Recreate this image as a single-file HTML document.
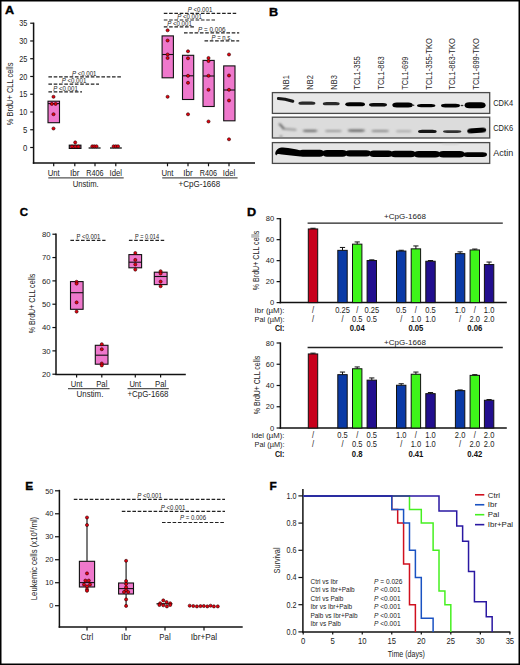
<!DOCTYPE html><html><head><meta charset="utf-8"><title>Figure</title><style>html,body{margin:0;padding:0;background:#fff;width:520px;height:665px;overflow:hidden;}svg text{font-family:"Liberation Sans", sans-serif;}</style></head><body><svg width="520" height="665" viewBox="0 0 520 665" style="display:block;font-family:'Liberation Sans', sans-serif"><rect x="0" y="0" width="520" height="665" fill="#fff"/><text transform="translate(5.0 13.9) scale(1.12 1)" x="0" y="0" font-size="11.3" font-weight="bold" fill="#000" stroke="#000" stroke-width="0.35">A</text>
<line x1="33.6" y1="22.6" x2="33.6" y2="163.8" stroke="#111" stroke-width="1.5" stroke-linecap="butt"/>
<line x1="32.8" y1="163.1" x2="255" y2="163.1" stroke="#111" stroke-width="1.5" stroke-linecap="butt"/>
<line x1="30.2" y1="147.5" x2="33.6" y2="147.5" stroke="#111" stroke-width="1.2" stroke-linecap="butt"/>
<text x="27.4" y="150.6" font-size="8.6" text-anchor="end" fill="#222" textLength="4.3" lengthAdjust="spacingAndGlyphs">0</text>
<line x1="30.2" y1="129.75" x2="33.6" y2="129.75" stroke="#111" stroke-width="1.2" stroke-linecap="butt"/>
<text x="27.4" y="132.84" font-size="8.6" text-anchor="end" fill="#222" textLength="4.3" lengthAdjust="spacingAndGlyphs">5</text>
<line x1="30.2" y1="111.99" x2="33.6" y2="111.99" stroke="#111" stroke-width="1.2" stroke-linecap="butt"/>
<text x="27.4" y="115.09" font-size="8.6" text-anchor="end" fill="#222" textLength="8.1" lengthAdjust="spacingAndGlyphs">10</text>
<line x1="30.2" y1="94.23" x2="33.6" y2="94.23" stroke="#111" stroke-width="1.2" stroke-linecap="butt"/>
<text x="27.4" y="97.33" font-size="8.6" text-anchor="end" fill="#222" textLength="8.1" lengthAdjust="spacingAndGlyphs">15</text>
<line x1="30.2" y1="76.48" x2="33.6" y2="76.48" stroke="#111" stroke-width="1.2" stroke-linecap="butt"/>
<text x="27.4" y="79.58" font-size="8.6" text-anchor="end" fill="#222" textLength="8.1" lengthAdjust="spacingAndGlyphs">20</text>
<line x1="30.2" y1="58.72" x2="33.6" y2="58.72" stroke="#111" stroke-width="1.2" stroke-linecap="butt"/>
<text x="27.4" y="61.82" font-size="8.6" text-anchor="end" fill="#222" textLength="8.1" lengthAdjust="spacingAndGlyphs">25</text>
<line x1="30.2" y1="40.97" x2="33.6" y2="40.97" stroke="#111" stroke-width="1.2" stroke-linecap="butt"/>
<text x="27.4" y="44.07" font-size="8.6" text-anchor="end" fill="#222" textLength="8.1" lengthAdjust="spacingAndGlyphs">30</text>
<line x1="30.2" y1="23.21" x2="33.6" y2="23.21" stroke="#111" stroke-width="1.2" stroke-linecap="butt"/>
<text x="27.4" y="26.31" font-size="8.6" text-anchor="end" fill="#222" textLength="8.1" lengthAdjust="spacingAndGlyphs">35</text>
<text x="12.8" y="93.95" font-size="8.8" text-anchor="middle" fill="#222" textLength="62.7" lengthAdjust="spacingAndGlyphs" transform="rotate(-90 12.8 93.95)">% BrdU+ CLL cells</text>
<line x1="53.7" y1="163.1" x2="53.7" y2="166.3" stroke="#111" stroke-width="1.2" stroke-linecap="butt"/>
<text x="53.7" y="176.2" font-size="8.6" text-anchor="middle" fill="#222" textLength="12" lengthAdjust="spacingAndGlyphs">Unt</text>
<line x1="74.8" y1="163.1" x2="74.8" y2="166.3" stroke="#111" stroke-width="1.2" stroke-linecap="butt"/>
<text x="74.8" y="176.2" font-size="8.6" text-anchor="middle" fill="#222" textLength="9.5" lengthAdjust="spacingAndGlyphs">Ibr</text>
<line x1="95.0" y1="163.1" x2="95.0" y2="166.3" stroke="#111" stroke-width="1.2" stroke-linecap="butt"/>
<text x="95.0" y="176.2" font-size="8.6" text-anchor="middle" fill="#222" textLength="17.3" lengthAdjust="spacingAndGlyphs">R406</text>
<line x1="115.8" y1="163.1" x2="115.8" y2="166.3" stroke="#111" stroke-width="1.2" stroke-linecap="butt"/>
<text x="115.8" y="176.2" font-size="8.6" text-anchor="middle" fill="#222" textLength="12.5" lengthAdjust="spacingAndGlyphs">Idel</text>
<line x1="167.5" y1="163.1" x2="167.5" y2="166.3" stroke="#111" stroke-width="1.2" stroke-linecap="butt"/>
<text x="167.5" y="176.2" font-size="8.6" text-anchor="middle" fill="#222" textLength="12" lengthAdjust="spacingAndGlyphs">Unt</text>
<line x1="188.0" y1="163.1" x2="188.0" y2="166.3" stroke="#111" stroke-width="1.2" stroke-linecap="butt"/>
<text x="188.0" y="176.2" font-size="8.6" text-anchor="middle" fill="#222" textLength="9.5" lengthAdjust="spacingAndGlyphs">Ibr</text>
<line x1="208.5" y1="163.1" x2="208.5" y2="166.3" stroke="#111" stroke-width="1.2" stroke-linecap="butt"/>
<text x="208.5" y="176.2" font-size="8.6" text-anchor="middle" fill="#222" textLength="17.3" lengthAdjust="spacingAndGlyphs">R406</text>
<line x1="229.0" y1="163.1" x2="229.0" y2="166.3" stroke="#111" stroke-width="1.2" stroke-linecap="butt"/>
<text x="229.0" y="176.2" font-size="8.6" text-anchor="middle" fill="#222" textLength="12.5" lengthAdjust="spacingAndGlyphs">Idel</text>
<line x1="48.3" y1="177.9" x2="123.7" y2="177.9" stroke="#555" stroke-width="1.1" stroke-linecap="butt"/>
<line x1="162.2" y1="177.9" x2="237.6" y2="177.9" stroke="#555" stroke-width="1.1" stroke-linecap="butt"/>
<text x="85.7" y="186.8" font-size="8.6" text-anchor="middle" fill="#222" textLength="26" lengthAdjust="spacingAndGlyphs">Unstim.</text>
<text x="199.4" y="186.8" font-size="8.4" text-anchor="middle" fill="#222" textLength="41.7" lengthAdjust="spacingAndGlyphs">+CpG-1668</text>
<rect x="48.0" y="101.2" width="11.5" height="21.5" fill="#ef78cc" stroke="#111" stroke-width="1.1"/>
<line x1="48.0" y1="103.6" x2="59.5" y2="103.6" stroke="#111" stroke-width="1.1" stroke-linecap="butt"/>
<circle cx="53.5" cy="96.8" r="1.55" fill="#e6000e" stroke="#2a0000" stroke-width="0.6"/>
<circle cx="51.8" cy="103.9" r="1.55" fill="#e6000e" stroke="#2a0000" stroke-width="0.6"/>
<circle cx="55.6" cy="103.9" r="1.55" fill="#e6000e" stroke="#2a0000" stroke-width="0.6"/>
<circle cx="53.5" cy="114.2" r="1.55" fill="#e6000e" stroke="#2a0000" stroke-width="0.6"/>
<circle cx="53.5" cy="128.5" r="1.55" fill="#e6000e" stroke="#2a0000" stroke-width="0.6"/>
<rect x="69.3" y="145.2" width="11.6" height="3.2" fill="#ef78cc" stroke="#111" stroke-width="1.2"/>
<circle cx="75.2" cy="142.4" r="1.55" fill="#e6000e" stroke="#2a0000" stroke-width="0.6"/>
<circle cx="72.0" cy="146.6" r="1.55" fill="#e6000e" stroke="#2a0000" stroke-width="0.6"/>
<circle cx="75.2" cy="146.6" r="1.55" fill="#e6000e" stroke="#2a0000" stroke-width="0.6"/>
<circle cx="78.3" cy="146.6" r="1.55" fill="#e6000e" stroke="#2a0000" stroke-width="0.6"/>
<line x1="88.6" y1="148.0" x2="100.6" y2="148.0" stroke="#111" stroke-width="1.3" stroke-linecap="butt"/>
<circle cx="92.3" cy="146.3" r="1.55" fill="#e6000e" stroke="#2a0000" stroke-width="0.6"/>
<circle cx="94.3" cy="146.3" r="1.55" fill="#e6000e" stroke="#2a0000" stroke-width="0.6"/>
<circle cx="96.5" cy="146.3" r="1.55" fill="#e6000e" stroke="#2a0000" stroke-width="0.6"/>
<line x1="110.0" y1="148.0" x2="121.8" y2="148.0" stroke="#111" stroke-width="1.3" stroke-linecap="butt"/>
<circle cx="113.6" cy="146.3" r="1.55" fill="#e6000e" stroke="#2a0000" stroke-width="0.6"/>
<circle cx="115.8" cy="146.3" r="1.55" fill="#e6000e" stroke="#2a0000" stroke-width="0.6"/>
<circle cx="118.0" cy="146.3" r="1.55" fill="#e6000e" stroke="#2a0000" stroke-width="0.6"/>
<rect x="162.1" y="35.9" width="11.3" height="41.9" fill="#ef78cc" stroke="#111" stroke-width="1.1"/>
<line x1="162.1" y1="54.5" x2="173.4" y2="54.5" stroke="#111" stroke-width="1.1" stroke-linecap="butt"/>
<circle cx="167.6" cy="30.3" r="1.55" fill="#e6000e" stroke="#2a0000" stroke-width="0.6"/>
<circle cx="167.6" cy="40.5" r="1.55" fill="#e6000e" stroke="#2a0000" stroke-width="0.6"/>
<circle cx="167.6" cy="54.5" r="1.55" fill="#e6000e" stroke="#2a0000" stroke-width="0.6"/>
<circle cx="167.6" cy="58.0" r="1.55" fill="#e6000e" stroke="#2a0000" stroke-width="0.6"/>
<circle cx="167.6" cy="96.8" r="1.55" fill="#e6000e" stroke="#2a0000" stroke-width="0.6"/>
<rect x="182.5" y="55.3" width="11.2" height="44.2" fill="#ef78cc" stroke="#111" stroke-width="1.1"/>
<line x1="182.5" y1="75.8" x2="193.7" y2="75.8" stroke="#111" stroke-width="1.1" stroke-linecap="butt"/>
<circle cx="188.0" cy="51.3" r="1.55" fill="#e6000e" stroke="#2a0000" stroke-width="0.6"/>
<circle cx="188.0" cy="58.3" r="1.55" fill="#e6000e" stroke="#2a0000" stroke-width="0.6"/>
<circle cx="188.0" cy="75.8" r="1.55" fill="#e6000e" stroke="#2a0000" stroke-width="0.6"/>
<circle cx="188.0" cy="82.8" r="1.55" fill="#e6000e" stroke="#2a0000" stroke-width="0.6"/>
<circle cx="188.0" cy="114.3" r="1.55" fill="#e6000e" stroke="#2a0000" stroke-width="0.6"/>
<rect x="203.0" y="60.4" width="11.2" height="46.1" fill="#ef78cc" stroke="#111" stroke-width="1.1"/>
<line x1="203.0" y1="76.0" x2="214.2" y2="76.0" stroke="#111" stroke-width="1.1" stroke-linecap="butt"/>
<circle cx="208.5" cy="58.0" r="1.55" fill="#e6000e" stroke="#2a0000" stroke-width="0.6"/>
<circle cx="208.5" cy="61.0" r="1.55" fill="#e6000e" stroke="#2a0000" stroke-width="0.6"/>
<circle cx="208.5" cy="75.8" r="1.55" fill="#e6000e" stroke="#2a0000" stroke-width="0.6"/>
<circle cx="208.5" cy="89.8" r="1.55" fill="#e6000e" stroke="#2a0000" stroke-width="0.6"/>
<circle cx="208.5" cy="121.5" r="1.55" fill="#e6000e" stroke="#2a0000" stroke-width="0.6"/>
<rect x="223.7" y="65.9" width="11.3" height="54.9" fill="#ef78cc" stroke="#111" stroke-width="1.1"/>
<line x1="223.7" y1="90.0" x2="235.0" y2="90.0" stroke="#111" stroke-width="1.1" stroke-linecap="butt"/>
<circle cx="229.0" cy="54.5" r="1.55" fill="#e6000e" stroke="#2a0000" stroke-width="0.6"/>
<circle cx="229.0" cy="75.5" r="1.55" fill="#e6000e" stroke="#2a0000" stroke-width="0.6"/>
<circle cx="229.0" cy="89.8" r="1.55" fill="#e6000e" stroke="#2a0000" stroke-width="0.6"/>
<circle cx="229.0" cy="100.5" r="1.55" fill="#e6000e" stroke="#2a0000" stroke-width="0.6"/>
<circle cx="229.0" cy="139.3" r="1.55" fill="#e6000e" stroke="#2a0000" stroke-width="0.6"/>
<line x1="48.4" y1="76.8" x2="121.0" y2="76.8" stroke="#222" stroke-width="1.2" stroke-dasharray="3.6 1.7" stroke-linecap="butt"/>
<text x="84.2" y="75.6" font-size="6.3" text-anchor="middle" fill="#222" textLength="24.6" lengthAdjust="spacingAndGlyphs"><tspan font-style="italic">P</tspan> &lt;0.001</text>
<line x1="48.4" y1="84.2" x2="99.0" y2="84.2" stroke="#222" stroke-width="1.2" stroke-dasharray="3.6 1.7" stroke-linecap="butt"/>
<text x="74.0" y="83.0" font-size="6.3" text-anchor="middle" fill="#222" textLength="24.6" lengthAdjust="spacingAndGlyphs"><tspan font-style="italic">P</tspan> &lt;0.001</text>
<line x1="48.4" y1="91.8" x2="82.0" y2="91.8" stroke="#222" stroke-width="1.2" stroke-dasharray="3.6 1.7" stroke-linecap="butt"/>
<text x="65.5" y="90.6" font-size="6.3" text-anchor="middle" fill="#222" textLength="24.6" lengthAdjust="spacingAndGlyphs"><tspan font-style="italic">P</tspan> &lt;0.001</text>
<line x1="163.8" y1="13.3" x2="236.2" y2="13.3" stroke="#222" stroke-width="1.2" stroke-dasharray="3.6 1.7" stroke-linecap="butt"/>
<text x="200.0" y="12.0" font-size="6.3" text-anchor="middle" fill="#222" textLength="24.6" lengthAdjust="spacingAndGlyphs"><tspan font-style="italic">P</tspan> &lt;0.001</text>
<line x1="163.8" y1="20.0" x2="215.0" y2="20.0" stroke="#222" stroke-width="1.2" stroke-dasharray="3.6 1.7" stroke-linecap="butt"/>
<text x="189.5" y="18.8" font-size="6.3" text-anchor="middle" fill="#222" textLength="24.6" lengthAdjust="spacingAndGlyphs"><tspan font-style="italic">P</tspan> &lt;0.001</text>
<line x1="163.8" y1="26.8" x2="195.5" y2="26.8" stroke="#222" stroke-width="1.2" stroke-dasharray="3.6 1.7" stroke-linecap="butt"/>
<text x="179.5" y="25.6" font-size="6.3" text-anchor="middle" fill="#222" textLength="24.6" lengthAdjust="spacingAndGlyphs"><tspan font-style="italic">P</tspan> &lt;0.001</text>
<line x1="184.0" y1="32.8" x2="239.2" y2="32.8" stroke="#222" stroke-width="1.2" stroke-dasharray="3.6 1.7" stroke-linecap="butt"/>
<text x="211.8" y="31.7" font-size="6.3" text-anchor="middle" fill="#222" textLength="27.4" lengthAdjust="spacingAndGlyphs"><tspan font-style="italic">P</tspan> = 0.006</text>
<line x1="204.5" y1="40.8" x2="239.2" y2="40.8" stroke="#222" stroke-width="1.2" stroke-dasharray="3.6 1.7" stroke-linecap="butt"/>
<text x="221.7" y="39.7" font-size="6.3" text-anchor="middle" fill="#222" textLength="20.4" lengthAdjust="spacingAndGlyphs"><tspan font-style="italic">P</tspan> = n.s.</text>
<text transform="translate(268.9 16.2) scale(1.12 1)" x="0" y="0" font-size="11.3" font-weight="bold" fill="#000" stroke="#000" stroke-width="0.35">B</text>
<text x="288.9" y="89.7" font-size="8.7" text-anchor="start" fill="#2a2a2a" textLength="14.5" lengthAdjust="spacingAndGlyphs" transform="rotate(-90 288.9 89.7)">NB1</text>
<text x="312.9" y="89.7" font-size="8.7" text-anchor="start" fill="#2a2a2a" textLength="14.5" lengthAdjust="spacingAndGlyphs" transform="rotate(-90 312.9 89.7)">NB2</text>
<text x="336.9" y="89.7" font-size="8.7" text-anchor="start" fill="#2a2a2a" textLength="14.5" lengthAdjust="spacingAndGlyphs" transform="rotate(-90 336.9 89.7)">NB3</text>
<text x="360.4" y="89.7" font-size="8.7" text-anchor="start" fill="#2a2a2a" textLength="33.5" lengthAdjust="spacingAndGlyphs" transform="rotate(-90 360.4 89.7)">TCL1-355</text>
<text x="383.9" y="89.7" font-size="8.7" text-anchor="start" fill="#2a2a2a" textLength="33.5" lengthAdjust="spacingAndGlyphs" transform="rotate(-90 383.9 89.7)">TCL1-863</text>
<text x="407.9" y="89.7" font-size="8.7" text-anchor="start" fill="#2a2a2a" textLength="33.2" lengthAdjust="spacingAndGlyphs" transform="rotate(-90 407.9 89.7)">TCL1-699</text>
<text x="431.65" y="89.7" font-size="8.7" text-anchor="start" fill="#2a2a2a" textLength="51.5" lengthAdjust="spacingAndGlyphs" transform="rotate(-90 431.65 89.7)">TCL1-355-TKO</text>
<text x="455.4" y="89.7" font-size="8.7" text-anchor="start" fill="#2a2a2a" textLength="51.5" lengthAdjust="spacingAndGlyphs" transform="rotate(-90 455.4 89.7)">TCL1-863-TKO</text>
<text x="479.15" y="89.7" font-size="8.7" text-anchor="start" fill="#2a2a2a" textLength="51.5" lengthAdjust="spacingAndGlyphs" transform="rotate(-90 479.15 89.7)">TCL1-699-TKO</text>
<defs><filter id="bl" x="-20%" y="-100%" width="140%" height="300%"><feGaussianBlur stdDeviation="0.75"/></filter><filter id="bl2" x="-20%" y="-100%" width="140%" height="300%"><feGaussianBlur stdDeviation="0.9"/></filter><clipPath id="c1"><rect x="272.4" y="92.6" width="217.3" height="20.8"/></clipPath><clipPath id="c2"><rect x="272.4" y="117.2" width="217.3" height="20.8"/></clipPath><clipPath id="c3"><rect x="272.4" y="142.6" width="217.3" height="20.8"/></clipPath></defs>
<rect x="272.4" y="92.6" width="217.3" height="20.8" fill="#e7e7e7" stroke="#4a4a4a" stroke-width="1.3"/>
<rect x="272.4" y="117.2" width="217.3" height="20.8" fill="#dcdcdc" stroke="#4a4a4a" stroke-width="1.3"/>
<rect x="272.4" y="142.6" width="217.3" height="20.8" fill="#e5e5e5" stroke="#4a4a4a" stroke-width="1.3"/>
<g clip-path="url(#c1)"><path d="M278.4,98.6 C283,98.7 288,99.8 292.8,101.3" stroke="#151515" stroke-width="3.0" fill="none" stroke-linecap="round" filter="url(#bl)"/></g>
<g clip-path="url(#c1)"><rect x="298.4" y="101.6" width="17.0" height="3.2" rx="3.74" ry="1.6" fill="#2a2a2a" filter="url(#bl)"/></g>
<g clip-path="url(#c1)"><rect x="322.8" y="102.1" width="16.9" height="3.2" rx="3.72" ry="1.6" fill="#2c2c2c" filter="url(#bl)"/></g>
<g clip-path="url(#c1)"><rect x="345.3" y="102.3" width="19.7" height="4.0" rx="4.33" ry="2.0" fill="#050505" filter="url(#bl)"/></g>
<g clip-path="url(#c1)"><rect x="369.0" y="102.9" width="18.0" height="3.6" rx="3.96" ry="1.8" fill="#080808" filter="url(#bl)"/></g>
<g clip-path="url(#c1)"><rect x="392.3" y="102.5" width="20.5" height="5.0" rx="4.51" ry="2.5" fill="#000" filter="url(#bl)"/></g>
<g clip-path="url(#c1)"><rect x="417.0" y="103.9" width="18.4" height="3.4" rx="4.05" ry="1.7" fill="#060606" filter="url(#bl)"/></g>
<g clip-path="url(#c1)"><rect x="441.0" y="103.7" width="19.0" height="3.8" rx="4.18" ry="1.9" fill="#040404" filter="url(#bl)"/></g>
<g clip-path="url(#c1)"><rect x="464.6" y="102.2" width="21.0" height="6.0" rx="4.62" ry="3.0" fill="#000" filter="url(#bl)"/></g>
<g clip-path="url(#c1)"><rect x="411.5" y="104.6" width="3.0" height="1.4" rx="1.50" ry="0.7" fill="#333" filter="url(#bl)"/></g>
<g clip-path="url(#c1)"><rect x="460.5" y="104.8" width="3.0" height="1.4" rx="1.50" ry="0.7" fill="#333" filter="url(#bl)"/></g>
<g clip-path="url(#c2)" filter="url(#bl2)"><path d="M283,128.8 L295.5,129.8" stroke="#9a9a9a" stroke-width="2.0" fill="none" stroke-linecap="round"/><path d="M279.6,124.2 L283.5,128.2" stroke="#555" stroke-width="1.8" fill="none" stroke-linecap="round"/><circle cx="281" cy="136.5" r="1.2" fill="#888"/></g>
<g clip-path="url(#c2)"><rect x="302.7" y="129.7" width="14.8" height="2.2" rx="3.26" ry="1.1" fill="#6e6e6e" filter="url(#bl2)"/></g>
<g clip-path="url(#c2)"><rect x="324.9" y="130.0" width="16.9" height="2.0" rx="3.72" ry="1.0" fill="#9a9a9a" filter="url(#bl2)"/></g>
<g clip-path="url(#c2)"><rect x="347.7" y="129.5" width="17.3" height="2.2" rx="3.81" ry="1.1" fill="#5e5e5e" filter="url(#bl2)"/></g>
<g clip-path="url(#c2)"><rect x="371.4" y="130.0" width="17.6" height="2.0" rx="3.87" ry="1.0" fill="#888" filter="url(#bl2)"/></g>
<g clip-path="url(#c2)"><rect x="395.9" y="130.2" width="15.8" height="2.0" rx="3.48" ry="1.0" fill="#a8a8a8" filter="url(#bl2)"/></g>
<g clip-path="url(#c2)"><rect x="418.0" y="129.7" width="18.7" height="3.4" rx="4.11" ry="1.7" fill="#141414" filter="url(#bl)"/></g>
<g clip-path="url(#c2)"><rect x="443.0" y="130.2" width="18.4" height="2.8" rx="4.05" ry="1.4" fill="#333" filter="url(#bl)"/></g>
<g clip-path="url(#c2)"><rect x="467.2" y="128.1" width="19.0" height="5.0" rx="4.18" ry="2.5" fill="#000" filter="url(#bl)" transform="rotate(-4 476.7 130.6)"/></g>
<g clip-path="url(#c3)" filter="url(#bl)"><path d="M275.2,154.0 C275.5,149.5 279,147.6 283,147.6 C290,147.8 296,149.4 300.5,150.6 L300.5,156.4 C294,156.2 288,155.2 282,154.6 C279.5,154.2 277.5,153.4 276.2,155.4 Z" fill="#000"/></g>
<g clip-path="url(#c3)"><rect x="298.0" y="149.75" width="26.5" height="6.9" rx="4.77" ry="3.45" fill="#000" filter="url(#bl)"/></g>
<g clip-path="url(#c3)"><rect x="322.5" y="149.95" width="24.5" height="6.7" rx="4.41" ry="3.35" fill="#000" filter="url(#bl)"/></g>
<g clip-path="url(#c3)"><rect x="345.0" y="150.15" width="26.0" height="6.3" rx="4.68" ry="3.15" fill="#000" filter="url(#bl)"/></g>
<g clip-path="url(#c3)"><rect x="369.5" y="150.6" width="23.0" height="6.4" rx="4.14" ry="3.2" fill="#000" filter="url(#bl)"/></g>
<g clip-path="url(#c3)"><rect x="390.5" y="150.85" width="25.0" height="6.5" rx="4.50" ry="3.25" fill="#000" filter="url(#bl)"/></g>
<g clip-path="url(#c3)"><rect x="414.0" y="151.0" width="26.0" height="6.4" rx="4.68" ry="3.2" fill="#000" filter="url(#bl)"/></g>
<g clip-path="url(#c3)"><rect x="438.5" y="150.95" width="26.0" height="6.5" rx="4.68" ry="3.25" fill="#000" filter="url(#bl)"/></g>
<g clip-path="url(#c3)"><rect x="463.0" y="152.3" width="24.0" height="4.6" rx="4.32" ry="2.3" fill="#000" filter="url(#bl)"/></g>
<g clip-path="url(#c3)"><rect x="441.3" y="143.3" width="18.0" height="1.0" rx="3.96" ry="0.5" fill="#c4c4c4" filter="url(#bl2)"/></g>
<text x="493.2" y="106.4" font-size="8.2" text-anchor="start" fill="#222" textLength="20" lengthAdjust="spacingAndGlyphs">CDK4</text>
<text x="493.2" y="130.8" font-size="8.2" text-anchor="start" fill="#222" textLength="20" lengthAdjust="spacingAndGlyphs">CDK6</text>
<text x="493.2" y="155.6" font-size="8.2" text-anchor="start" fill="#222" textLength="20" lengthAdjust="spacingAndGlyphs">Actin</text>
<text transform="translate(19.8 215.5) scale(1.02 1)" x="0" y="0" font-size="11.3" font-weight="bold" fill="#000" stroke="#000" stroke-width="0.35">C</text>
<line x1="56.0" y1="233.6" x2="56.0" y2="375.1" stroke="#111" stroke-width="1.5" stroke-linecap="butt"/>
<line x1="55.3" y1="374.4" x2="185.8" y2="374.4" stroke="#111" stroke-width="1.5" stroke-linecap="butt"/>
<line x1="52.4" y1="374.2" x2="56.0" y2="374.2" stroke="#111" stroke-width="1.2" stroke-linecap="butt"/>
<text x="50.6" y="376.9" font-size="7.9" text-anchor="end" fill="#222" textLength="8.6" lengthAdjust="spacingAndGlyphs">20</text>
<line x1="52.4" y1="350.87" x2="56.0" y2="350.87" stroke="#111" stroke-width="1.2" stroke-linecap="butt"/>
<text x="50.6" y="353.57" font-size="7.9" text-anchor="end" fill="#222" textLength="8.6" lengthAdjust="spacingAndGlyphs">30</text>
<line x1="52.4" y1="327.54" x2="56.0" y2="327.54" stroke="#111" stroke-width="1.2" stroke-linecap="butt"/>
<text x="50.6" y="330.24" font-size="7.9" text-anchor="end" fill="#222" textLength="8.6" lengthAdjust="spacingAndGlyphs">40</text>
<line x1="52.4" y1="304.21" x2="56.0" y2="304.21" stroke="#111" stroke-width="1.2" stroke-linecap="butt"/>
<text x="50.6" y="306.91" font-size="7.9" text-anchor="end" fill="#222" textLength="8.6" lengthAdjust="spacingAndGlyphs">50</text>
<line x1="52.4" y1="280.88" x2="56.0" y2="280.88" stroke="#111" stroke-width="1.2" stroke-linecap="butt"/>
<text x="50.6" y="283.58" font-size="7.9" text-anchor="end" fill="#222" textLength="8.6" lengthAdjust="spacingAndGlyphs">60</text>
<line x1="52.4" y1="257.55" x2="56.0" y2="257.55" stroke="#111" stroke-width="1.2" stroke-linecap="butt"/>
<text x="50.6" y="260.25" font-size="7.9" text-anchor="end" fill="#222" textLength="8.6" lengthAdjust="spacingAndGlyphs">70</text>
<line x1="52.4" y1="234.22" x2="56.0" y2="234.22" stroke="#111" stroke-width="1.2" stroke-linecap="butt"/>
<text x="50.6" y="236.92" font-size="7.9" text-anchor="end" fill="#222" textLength="8.6" lengthAdjust="spacingAndGlyphs">80</text>
<text x="35.0" y="303.45" font-size="8.4" text-anchor="middle" fill="#222" textLength="59.5" lengthAdjust="spacingAndGlyphs" transform="rotate(-90 35.0 303.45)">% BrdU+ CLL cells</text>
<line x1="76.6" y1="374.4" x2="76.6" y2="377.6" stroke="#111" stroke-width="1.2" stroke-linecap="butt"/>
<text x="76.6" y="386.6" font-size="8.2" text-anchor="middle" fill="#222" textLength="11.8" lengthAdjust="spacingAndGlyphs">Unt</text>
<line x1="101.8" y1="374.4" x2="101.8" y2="377.6" stroke="#111" stroke-width="1.2" stroke-linecap="butt"/>
<text x="101.8" y="386.6" font-size="8.2" text-anchor="middle" fill="#222" textLength="11.2" lengthAdjust="spacingAndGlyphs">Pal</text>
<line x1="135.3" y1="374.4" x2="135.3" y2="377.6" stroke="#111" stroke-width="1.2" stroke-linecap="butt"/>
<text x="135.3" y="386.6" font-size="8.2" text-anchor="middle" fill="#222" textLength="11.8" lengthAdjust="spacingAndGlyphs">Unt</text>
<line x1="160.6" y1="374.4" x2="160.6" y2="377.6" stroke="#111" stroke-width="1.2" stroke-linecap="butt"/>
<text x="160.6" y="386.6" font-size="8.2" text-anchor="middle" fill="#222" textLength="11.2" lengthAdjust="spacingAndGlyphs">Pal</text>
<line x1="68.0" y1="388.6" x2="109.6" y2="388.6" stroke="#555" stroke-width="1.1" stroke-linecap="butt"/>
<line x1="127.5" y1="388.6" x2="168.8" y2="388.6" stroke="#555" stroke-width="1.1" stroke-linecap="butt"/>
<text x="90.0" y="397.4" font-size="8.2" text-anchor="middle" fill="#222" textLength="26.8" lengthAdjust="spacingAndGlyphs">Unstim.</text>
<text x="148.0" y="397.4" font-size="8.2" text-anchor="middle" fill="#222" textLength="41" lengthAdjust="spacingAndGlyphs">+CpG-1668</text>
<rect x="70.5" y="281.6" width="12.6" height="27.7" fill="#ef78cc" stroke="#111" stroke-width="1.1"/>
<line x1="70.5" y1="292.7" x2="83.1" y2="292.7" stroke="#111" stroke-width="1.1" stroke-linecap="butt"/>
<circle cx="76.6" cy="281.8" r="1.55" fill="#e6000e" stroke="#2a0000" stroke-width="0.6"/>
<circle cx="76.6" cy="283.6" r="1.55" fill="#e6000e" stroke="#2a0000" stroke-width="0.6"/>
<circle cx="76.6" cy="302.4" r="1.55" fill="#e6000e" stroke="#2a0000" stroke-width="0.6"/>
<circle cx="76.6" cy="311.6" r="1.55" fill="#e6000e" stroke="#2a0000" stroke-width="0.6"/>
<rect x="95.3" y="345.3" width="12.7" height="18.9" fill="#ef78cc" stroke="#111" stroke-width="1.1"/>
<line x1="95.3" y1="355.2" x2="108.0" y2="355.2" stroke="#111" stroke-width="1.1" stroke-linecap="butt"/>
<circle cx="101.8" cy="344.2" r="1.55" fill="#e6000e" stroke="#2a0000" stroke-width="0.6"/>
<circle cx="101.8" cy="349.2" r="1.55" fill="#e6000e" stroke="#2a0000" stroke-width="0.6"/>
<circle cx="101.8" cy="363.5" r="1.55" fill="#e6000e" stroke="#2a0000" stroke-width="0.6"/>
<circle cx="101.8" cy="365.4" r="1.55" fill="#e6000e" stroke="#2a0000" stroke-width="0.6"/>
<rect x="128.9" y="254.6" width="12.7" height="13.2" fill="#ef78cc" stroke="#111" stroke-width="1.1"/>
<line x1="128.9" y1="262.2" x2="141.6" y2="262.2" stroke="#111" stroke-width="1.1" stroke-linecap="butt"/>
<circle cx="135.3" cy="253.0" r="1.55" fill="#e6000e" stroke="#2a0000" stroke-width="0.6"/>
<circle cx="135.3" cy="259.9" r="1.55" fill="#e6000e" stroke="#2a0000" stroke-width="0.6"/>
<circle cx="135.3" cy="264.5" r="1.55" fill="#e6000e" stroke="#2a0000" stroke-width="0.6"/>
<circle cx="135.3" cy="269.6" r="1.55" fill="#e6000e" stroke="#2a0000" stroke-width="0.6"/>
<rect x="154.3" y="272.2" width="12.8" height="12.4" fill="#ef78cc" stroke="#111" stroke-width="1.1"/>
<line x1="154.3" y1="276.5" x2="167.1" y2="276.5" stroke="#111" stroke-width="1.1" stroke-linecap="butt"/>
<circle cx="160.6" cy="271.2" r="1.55" fill="#e6000e" stroke="#2a0000" stroke-width="0.6"/>
<circle cx="160.6" cy="273.5" r="1.55" fill="#e6000e" stroke="#2a0000" stroke-width="0.6"/>
<circle cx="160.6" cy="281.6" r="1.55" fill="#e6000e" stroke="#2a0000" stroke-width="0.6"/>
<circle cx="160.6" cy="286.2" r="1.55" fill="#e6000e" stroke="#2a0000" stroke-width="0.6"/>
<line x1="70.4" y1="240.4" x2="105.5" y2="240.4" stroke="#222" stroke-width="1.2" stroke-dasharray="3.6 1.7" stroke-linecap="butt"/>
<text x="88.4" y="238.5" font-size="6.3" text-anchor="middle" fill="#222" textLength="24" lengthAdjust="spacingAndGlyphs">P &lt;0.001</text>
<line x1="128.9" y1="240.3" x2="164.2" y2="240.3" stroke="#222" stroke-width="1.2" stroke-dasharray="3.6 1.7" stroke-linecap="butt"/>
<text x="147.0" y="238.5" font-size="6.3" text-anchor="middle" fill="#222" textLength="24" lengthAdjust="spacingAndGlyphs">P = 0.014</text>
<text transform="translate(246.9 215.5) scale(1.12 1)" x="0" y="0" font-size="11.3" font-weight="bold" fill="#000" stroke="#000" stroke-width="0.35">D</text>
<line x1="280.4" y1="218.08" x2="280.4" y2="303.3" stroke="#111" stroke-width="1.5" stroke-linecap="butt"/>
<line x1="279.7" y1="302.6" x2="506.8" y2="302.6" stroke="#111" stroke-width="1.5" stroke-linecap="butt"/>
<line x1="276.6" y1="302.6" x2="280.4" y2="302.6" stroke="#111" stroke-width="1.2" stroke-linecap="butt"/>
<text x="274.2" y="305.1" font-size="7.4" text-anchor="end" fill="#222" textLength="4.2" lengthAdjust="spacingAndGlyphs">0</text>
<line x1="276.6" y1="281.62" x2="280.4" y2="281.62" stroke="#111" stroke-width="1.2" stroke-linecap="butt"/>
<text x="274.2" y="284.12" font-size="7.4" text-anchor="end" fill="#222" textLength="8.4" lengthAdjust="spacingAndGlyphs">20</text>
<line x1="276.6" y1="260.64" x2="280.4" y2="260.64" stroke="#111" stroke-width="1.2" stroke-linecap="butt"/>
<text x="274.2" y="263.14" font-size="7.4" text-anchor="end" fill="#222" textLength="8.4" lengthAdjust="spacingAndGlyphs">40</text>
<line x1="276.6" y1="239.66" x2="280.4" y2="239.66" stroke="#111" stroke-width="1.2" stroke-linecap="butt"/>
<text x="274.2" y="242.16" font-size="7.4" text-anchor="end" fill="#222" textLength="8.4" lengthAdjust="spacingAndGlyphs">60</text>
<line x1="276.6" y1="218.68" x2="280.4" y2="218.68" stroke="#111" stroke-width="1.2" stroke-linecap="butt"/>
<text x="274.2" y="221.18" font-size="7.4" text-anchor="end" fill="#222" textLength="8.4" lengthAdjust="spacingAndGlyphs">80</text>
<text x="258.9" y="260.45" font-size="9.0" text-anchor="middle" fill="#222" textLength="59.5" lengthAdjust="spacingAndGlyphs" transform="rotate(-90 258.9 260.45)">% BrdU+ CLL cells</text>
<line x1="307.6" y1="223.18" x2="502.8" y2="223.18" stroke="#222" stroke-width="1.3" stroke-linecap="butt"/>
<text x="405.0" y="219.48" font-size="8.0" text-anchor="middle" fill="#222" textLength="41.8" lengthAdjust="spacingAndGlyphs">+CpG-1668</text>
<rect x="308.3" y="228.95" width="9.4" height="73.65" fill="#c8001c" stroke="#111" stroke-width="1.0"/>
<line x1="313.0" y1="228.25" x2="313.0" y2="228.95" stroke="#111" stroke-width="1.0" stroke-linecap="butt"/>
<line x1="310.4" y1="228.25" x2="315.6" y2="228.25" stroke="#111" stroke-width="1.0" stroke-linecap="butt"/>
<rect x="337.8" y="250.35" width="9.4" height="52.25" fill="#0a3aa6" stroke="#111" stroke-width="1.0"/>
<line x1="342.5" y1="247.45" x2="342.5" y2="250.35" stroke="#111" stroke-width="1.0" stroke-linecap="butt"/>
<line x1="339.9" y1="247.45" x2="345.1" y2="247.45" stroke="#111" stroke-width="1.0" stroke-linecap="butt"/>
<rect x="352.5" y="244.15" width="9.4" height="58.45" fill="#3ef51a" stroke="#111" stroke-width="1.0"/>
<line x1="357.2" y1="241.95" x2="357.2" y2="244.15" stroke="#111" stroke-width="1.0" stroke-linecap="butt"/>
<line x1="354.6" y1="241.95" x2="359.8" y2="241.95" stroke="#111" stroke-width="1.0" stroke-linecap="butt"/>
<rect x="367.1" y="260.55" width="9.4" height="42.05" fill="#220f8e" stroke="#111" stroke-width="1.0"/>
<line x1="371.8" y1="259.85" x2="371.8" y2="260.55" stroke="#111" stroke-width="1.0" stroke-linecap="butt"/>
<line x1="369.2" y1="259.85" x2="374.4" y2="259.85" stroke="#111" stroke-width="1.0" stroke-linecap="butt"/>
<rect x="396.5" y="251.05" width="9.4" height="51.55" fill="#0a3aa6" stroke="#111" stroke-width="1.0"/>
<line x1="401.2" y1="250.25" x2="401.2" y2="251.05" stroke="#111" stroke-width="1.0" stroke-linecap="butt"/>
<line x1="398.6" y1="250.25" x2="403.8" y2="250.25" stroke="#111" stroke-width="1.0" stroke-linecap="butt"/>
<rect x="411.2" y="248.85" width="9.4" height="53.75" fill="#3ef51a" stroke="#111" stroke-width="1.0"/>
<line x1="415.9" y1="245.95" x2="415.9" y2="248.85" stroke="#111" stroke-width="1.0" stroke-linecap="butt"/>
<line x1="413.3" y1="245.95" x2="418.5" y2="245.95" stroke="#111" stroke-width="1.0" stroke-linecap="butt"/>
<rect x="425.8" y="261.25" width="9.4" height="41.35" fill="#220f8e" stroke="#111" stroke-width="1.0"/>
<line x1="430.5" y1="260.55" x2="430.5" y2="261.25" stroke="#111" stroke-width="1.0" stroke-linecap="butt"/>
<line x1="427.9" y1="260.55" x2="433.1" y2="260.55" stroke="#111" stroke-width="1.0" stroke-linecap="butt"/>
<rect x="455.4" y="253.65" width="9.4" height="48.95" fill="#0a3aa6" stroke="#111" stroke-width="1.0"/>
<line x1="460.1" y1="251.85" x2="460.1" y2="253.65" stroke="#111" stroke-width="1.0" stroke-linecap="butt"/>
<line x1="457.5" y1="251.85" x2="462.7" y2="251.85" stroke="#111" stroke-width="1.0" stroke-linecap="butt"/>
<rect x="470.1" y="249.95" width="9.4" height="52.65" fill="#3ef51a" stroke="#111" stroke-width="1.0"/>
<line x1="474.8" y1="249.05" x2="474.8" y2="249.95" stroke="#111" stroke-width="1.0" stroke-linecap="butt"/>
<line x1="472.2" y1="249.05" x2="477.4" y2="249.05" stroke="#111" stroke-width="1.0" stroke-linecap="butt"/>
<rect x="484.4" y="264.55" width="9.4" height="38.05" fill="#220f8e" stroke="#111" stroke-width="1.0"/>
<line x1="489.1" y1="262.05" x2="489.1" y2="264.55" stroke="#111" stroke-width="1.0" stroke-linecap="butt"/>
<line x1="486.5" y1="262.05" x2="491.7" y2="262.05" stroke="#111" stroke-width="1.0" stroke-linecap="butt"/>
<text x="284.5" y="312.8" font-size="7.6" text-anchor="end" fill="#222" textLength="29.9" lengthAdjust="spacingAndGlyphs">Ibr (µM):</text>
<text x="313.0" y="312.8" font-size="8.2" text-anchor="middle" fill="#222" textLength="2.1" lengthAdjust="spacingAndGlyphs">/</text>
<text x="342.5" y="312.8" font-size="8.2" text-anchor="middle" fill="#222" textLength="14.68" lengthAdjust="spacingAndGlyphs">0.25</text>
<text x="357.2" y="312.8" font-size="8.2" text-anchor="middle" fill="#222" textLength="2.1" lengthAdjust="spacingAndGlyphs">/</text>
<text x="371.8" y="312.8" font-size="8.2" text-anchor="middle" fill="#222" textLength="14.68" lengthAdjust="spacingAndGlyphs">0.25</text>
<text x="401.2" y="312.8" font-size="8.2" text-anchor="middle" fill="#222" textLength="10.49" lengthAdjust="spacingAndGlyphs">0.5</text>
<text x="415.9" y="312.8" font-size="8.2" text-anchor="middle" fill="#222" textLength="2.1" lengthAdjust="spacingAndGlyphs">/</text>
<text x="430.5" y="312.8" font-size="8.2" text-anchor="middle" fill="#222" textLength="10.49" lengthAdjust="spacingAndGlyphs">0.5</text>
<text x="460.1" y="312.8" font-size="8.2" text-anchor="middle" fill="#222" textLength="10.49" lengthAdjust="spacingAndGlyphs">1.0</text>
<text x="474.8" y="312.8" font-size="8.2" text-anchor="middle" fill="#222" textLength="2.1" lengthAdjust="spacingAndGlyphs">/</text>
<text x="489.1" y="312.8" font-size="8.2" text-anchor="middle" fill="#222" textLength="10.49" lengthAdjust="spacingAndGlyphs">1.0</text>
<text x="284.5" y="322.0" font-size="7.6" text-anchor="end" fill="#222" textLength="29.9" lengthAdjust="spacingAndGlyphs">Pal (µM):</text>
<text x="313.0" y="322.0" font-size="8.2" text-anchor="middle" fill="#222" textLength="2.1" lengthAdjust="spacingAndGlyphs">/</text>
<text x="342.5" y="322.0" font-size="8.2" text-anchor="middle" fill="#222" textLength="2.1" lengthAdjust="spacingAndGlyphs">/</text>
<text x="357.2" y="322.0" font-size="8.2" text-anchor="middle" fill="#222" textLength="10.49" lengthAdjust="spacingAndGlyphs">0.5</text>
<text x="371.8" y="322.0" font-size="8.2" text-anchor="middle" fill="#222" textLength="10.49" lengthAdjust="spacingAndGlyphs">0.5</text>
<text x="401.2" y="322.0" font-size="8.2" text-anchor="middle" fill="#222" textLength="2.1" lengthAdjust="spacingAndGlyphs">/</text>
<text x="415.9" y="322.0" font-size="8.2" text-anchor="middle" fill="#222" textLength="10.49" lengthAdjust="spacingAndGlyphs">1.0</text>
<text x="430.5" y="322.0" font-size="8.2" text-anchor="middle" fill="#222" textLength="10.49" lengthAdjust="spacingAndGlyphs">1.0</text>
<text x="460.1" y="322.0" font-size="8.2" text-anchor="middle" fill="#222" textLength="2.1" lengthAdjust="spacingAndGlyphs">/</text>
<text x="474.8" y="322.0" font-size="8.2" text-anchor="middle" fill="#222" textLength="10.49" lengthAdjust="spacingAndGlyphs">2.0</text>
<text x="489.1" y="322.0" font-size="8.2" text-anchor="middle" fill="#222" textLength="10.49" lengthAdjust="spacingAndGlyphs">2.0</text>
<text x="284.5" y="331.2" font-size="8.2" text-anchor="end" font-weight="bold" fill="#111" textLength="9.6" lengthAdjust="spacingAndGlyphs">CI:</text>
<text x="357.2" y="331.2" font-size="8.2" text-anchor="middle" font-weight="bold" fill="#111" textLength="15.0" lengthAdjust="spacingAndGlyphs">0.04</text>
<text x="415.9" y="331.2" font-size="8.2" text-anchor="middle" font-weight="bold" fill="#111" textLength="15.0" lengthAdjust="spacingAndGlyphs">0.05</text>
<text x="474.8" y="331.2" font-size="8.2" text-anchor="middle" font-weight="bold" fill="#111" textLength="15.0" lengthAdjust="spacingAndGlyphs">0.06</text>
<rect x="251.3" y="234.1" width="7.6" height="3.7" fill="#bdbdbd"/>
<line x1="280.4" y1="342.4" x2="280.4" y2="428.7" stroke="#111" stroke-width="1.5" stroke-linecap="butt"/>
<line x1="279.7" y1="428.0" x2="506.8" y2="428.0" stroke="#111" stroke-width="1.5" stroke-linecap="butt"/>
<line x1="276.6" y1="428.0" x2="280.4" y2="428.0" stroke="#111" stroke-width="1.2" stroke-linecap="butt"/>
<text x="274.2" y="430.5" font-size="7.4" text-anchor="end" fill="#222" textLength="4.2" lengthAdjust="spacingAndGlyphs">0</text>
<line x1="276.6" y1="406.75" x2="280.4" y2="406.75" stroke="#111" stroke-width="1.2" stroke-linecap="butt"/>
<text x="274.2" y="409.25" font-size="7.4" text-anchor="end" fill="#222" textLength="8.4" lengthAdjust="spacingAndGlyphs">20</text>
<line x1="276.6" y1="385.5" x2="280.4" y2="385.5" stroke="#111" stroke-width="1.2" stroke-linecap="butt"/>
<text x="274.2" y="388.0" font-size="7.4" text-anchor="end" fill="#222" textLength="8.4" lengthAdjust="spacingAndGlyphs">40</text>
<line x1="276.6" y1="364.25" x2="280.4" y2="364.25" stroke="#111" stroke-width="1.2" stroke-linecap="butt"/>
<text x="274.2" y="366.75" font-size="7.4" text-anchor="end" fill="#222" textLength="8.4" lengthAdjust="spacingAndGlyphs">60</text>
<line x1="276.6" y1="343.0" x2="280.4" y2="343.0" stroke="#111" stroke-width="1.2" stroke-linecap="butt"/>
<text x="274.2" y="345.5" font-size="7.4" text-anchor="end" fill="#222" textLength="8.4" lengthAdjust="spacingAndGlyphs">80</text>
<text x="259.9" y="385.0" font-size="9.0" text-anchor="middle" fill="#222" textLength="58.4" lengthAdjust="spacingAndGlyphs" transform="rotate(-90 259.9 385.0)">% BrdU+ CLL cells</text>
<line x1="307.6" y1="347.5" x2="502.8" y2="347.5" stroke="#222" stroke-width="1.3" stroke-linecap="butt"/>
<text x="405.0" y="344.5" font-size="8.0" text-anchor="middle" fill="#222" textLength="41.8" lengthAdjust="spacingAndGlyphs">+CpG-1668</text>
<rect x="308.3" y="353.95" width="9.4" height="74.05" fill="#c8001c" stroke="#111" stroke-width="1.0"/>
<line x1="313.0" y1="353.15" x2="313.0" y2="353.95" stroke="#111" stroke-width="1.0" stroke-linecap="butt"/>
<line x1="310.4" y1="353.15" x2="315.6" y2="353.15" stroke="#111" stroke-width="1.0" stroke-linecap="butt"/>
<rect x="337.8" y="374.65" width="9.4" height="53.35" fill="#0a3aa6" stroke="#111" stroke-width="1.0"/>
<line x1="342.5" y1="372.05" x2="342.5" y2="374.65" stroke="#111" stroke-width="1.0" stroke-linecap="butt"/>
<line x1="339.9" y1="372.05" x2="345.1" y2="372.05" stroke="#111" stroke-width="1.0" stroke-linecap="butt"/>
<rect x="352.5" y="368.75" width="9.4" height="59.25" fill="#3ef51a" stroke="#111" stroke-width="1.0"/>
<line x1="357.2" y1="366.95" x2="357.2" y2="368.75" stroke="#111" stroke-width="1.0" stroke-linecap="butt"/>
<line x1="354.6" y1="366.95" x2="359.8" y2="366.95" stroke="#111" stroke-width="1.0" stroke-linecap="butt"/>
<rect x="367.1" y="380.15" width="9.4" height="47.85" fill="#220f8e" stroke="#111" stroke-width="1.0"/>
<line x1="371.8" y1="377.95" x2="371.8" y2="380.15" stroke="#111" stroke-width="1.0" stroke-linecap="butt"/>
<line x1="369.2" y1="377.95" x2="374.4" y2="377.95" stroke="#111" stroke-width="1.0" stroke-linecap="butt"/>
<rect x="396.5" y="385.25" width="9.4" height="42.75" fill="#0a3aa6" stroke="#111" stroke-width="1.0"/>
<line x1="401.2" y1="383.75" x2="401.2" y2="385.25" stroke="#111" stroke-width="1.0" stroke-linecap="butt"/>
<line x1="398.6" y1="383.75" x2="403.8" y2="383.75" stroke="#111" stroke-width="1.0" stroke-linecap="butt"/>
<rect x="411.2" y="374.25" width="9.4" height="53.75" fill="#3ef51a" stroke="#111" stroke-width="1.0"/>
<line x1="415.9" y1="372.05" x2="415.9" y2="374.25" stroke="#111" stroke-width="1.0" stroke-linecap="butt"/>
<line x1="413.3" y1="372.05" x2="418.5" y2="372.05" stroke="#111" stroke-width="1.0" stroke-linecap="butt"/>
<rect x="425.8" y="393.65" width="9.4" height="34.35" fill="#220f8e" stroke="#111" stroke-width="1.0"/>
<line x1="430.5" y1="392.55" x2="430.5" y2="393.65" stroke="#111" stroke-width="1.0" stroke-linecap="butt"/>
<line x1="427.9" y1="392.55" x2="433.1" y2="392.55" stroke="#111" stroke-width="1.0" stroke-linecap="butt"/>
<rect x="455.4" y="390.65" width="9.4" height="37.35" fill="#0a3aa6" stroke="#111" stroke-width="1.0"/>
<line x1="460.1" y1="389.95" x2="460.1" y2="390.65" stroke="#111" stroke-width="1.0" stroke-linecap="butt"/>
<line x1="457.5" y1="389.95" x2="462.7" y2="389.95" stroke="#111" stroke-width="1.0" stroke-linecap="butt"/>
<rect x="470.1" y="375.35" width="9.4" height="52.65" fill="#3ef51a" stroke="#111" stroke-width="1.0"/>
<line x1="474.8" y1="374.65" x2="474.8" y2="375.35" stroke="#111" stroke-width="1.0" stroke-linecap="butt"/>
<line x1="472.2" y1="374.65" x2="477.4" y2="374.65" stroke="#111" stroke-width="1.0" stroke-linecap="butt"/>
<rect x="484.4" y="400.25" width="9.4" height="27.75" fill="#220f8e" stroke="#111" stroke-width="1.0"/>
<line x1="489.1" y1="399.55" x2="489.1" y2="400.25" stroke="#111" stroke-width="1.0" stroke-linecap="butt"/>
<line x1="486.5" y1="399.55" x2="491.7" y2="399.55" stroke="#111" stroke-width="1.0" stroke-linecap="butt"/>
<text x="284.5" y="438.2" font-size="7.6" text-anchor="end" fill="#222" textLength="33.0" lengthAdjust="spacingAndGlyphs">Idel (µM):</text>
<text x="313.0" y="438.2" font-size="8.2" text-anchor="middle" fill="#222" textLength="2.1" lengthAdjust="spacingAndGlyphs">/</text>
<text x="342.5" y="438.2" font-size="8.2" text-anchor="middle" fill="#222" textLength="10.49" lengthAdjust="spacingAndGlyphs">0.5</text>
<text x="357.2" y="438.2" font-size="8.2" text-anchor="middle" fill="#222" textLength="2.1" lengthAdjust="spacingAndGlyphs">/</text>
<text x="371.8" y="438.2" font-size="8.2" text-anchor="middle" fill="#222" textLength="10.49" lengthAdjust="spacingAndGlyphs">0.5</text>
<text x="401.2" y="438.2" font-size="8.2" text-anchor="middle" fill="#222" textLength="10.49" lengthAdjust="spacingAndGlyphs">1.0</text>
<text x="415.9" y="438.2" font-size="8.2" text-anchor="middle" fill="#222" textLength="2.1" lengthAdjust="spacingAndGlyphs">/</text>
<text x="430.5" y="438.2" font-size="8.2" text-anchor="middle" fill="#222" textLength="10.49" lengthAdjust="spacingAndGlyphs">1.0</text>
<text x="460.1" y="438.2" font-size="8.2" text-anchor="middle" fill="#222" textLength="10.49" lengthAdjust="spacingAndGlyphs">2.0</text>
<text x="474.8" y="438.2" font-size="8.2" text-anchor="middle" fill="#222" textLength="2.1" lengthAdjust="spacingAndGlyphs">/</text>
<text x="489.1" y="438.2" font-size="8.2" text-anchor="middle" fill="#222" textLength="10.49" lengthAdjust="spacingAndGlyphs">2.0</text>
<text x="284.5" y="447.4" font-size="7.6" text-anchor="end" fill="#222" textLength="29.9" lengthAdjust="spacingAndGlyphs">Pal (µM):</text>
<text x="313.0" y="447.4" font-size="8.2" text-anchor="middle" fill="#222" textLength="2.1" lengthAdjust="spacingAndGlyphs">/</text>
<text x="342.5" y="447.4" font-size="8.2" text-anchor="middle" fill="#222" textLength="2.1" lengthAdjust="spacingAndGlyphs">/</text>
<text x="357.2" y="447.4" font-size="8.2" text-anchor="middle" fill="#222" textLength="10.49" lengthAdjust="spacingAndGlyphs">0.5</text>
<text x="371.8" y="447.4" font-size="8.2" text-anchor="middle" fill="#222" textLength="10.49" lengthAdjust="spacingAndGlyphs">0.5</text>
<text x="401.2" y="447.4" font-size="8.2" text-anchor="middle" fill="#222" textLength="2.1" lengthAdjust="spacingAndGlyphs">/</text>
<text x="415.9" y="447.4" font-size="8.2" text-anchor="middle" fill="#222" textLength="10.49" lengthAdjust="spacingAndGlyphs">1.0</text>
<text x="430.5" y="447.4" font-size="8.2" text-anchor="middle" fill="#222" textLength="10.49" lengthAdjust="spacingAndGlyphs">1.0</text>
<text x="460.1" y="447.4" font-size="8.2" text-anchor="middle" fill="#222" textLength="2.1" lengthAdjust="spacingAndGlyphs">/</text>
<text x="474.8" y="447.4" font-size="8.2" text-anchor="middle" fill="#222" textLength="10.49" lengthAdjust="spacingAndGlyphs">2.0</text>
<text x="489.1" y="447.4" font-size="8.2" text-anchor="middle" fill="#222" textLength="10.49" lengthAdjust="spacingAndGlyphs">2.0</text>
<text x="284.5" y="456.6" font-size="8.2" text-anchor="end" font-weight="bold" fill="#111" textLength="9.6" lengthAdjust="spacingAndGlyphs">CI:</text>
<text x="357.2" y="456.6" font-size="8.2" text-anchor="middle" font-weight="bold" fill="#111" textLength="10.71" lengthAdjust="spacingAndGlyphs">0.8</text>
<text x="415.9" y="456.6" font-size="8.2" text-anchor="middle" font-weight="bold" fill="#111" textLength="15.0" lengthAdjust="spacingAndGlyphs">0.41</text>
<text x="474.8" y="456.6" font-size="8.2" text-anchor="middle" font-weight="bold" fill="#111" textLength="15.0" lengthAdjust="spacingAndGlyphs">0.42</text>
<text transform="translate(25.3 489.7) scale(1.05 1)" x="0" y="0" font-size="11.3" font-weight="bold" fill="#000" stroke="#000" stroke-width="0.35">E</text>
<line x1="59.4" y1="489.8" x2="59.4" y2="627.7" stroke="#111" stroke-width="1.5" stroke-linecap="butt"/>
<line x1="58.7" y1="627.0" x2="242.7" y2="627.0" stroke="#111" stroke-width="1.5" stroke-linecap="butt"/>
<line x1="55.0" y1="605.7" x2="59.4" y2="605.7" stroke="#111" stroke-width="1.2" stroke-linecap="butt"/>
<text x="53.4" y="608.4" font-size="8.0" text-anchor="end" fill="#222" textLength="4.1" lengthAdjust="spacingAndGlyphs">0</text>
<line x1="55.0" y1="582.72" x2="59.4" y2="582.72" stroke="#111" stroke-width="1.2" stroke-linecap="butt"/>
<text x="53.4" y="585.42" font-size="8.0" text-anchor="end" fill="#222" textLength="8.2" lengthAdjust="spacingAndGlyphs">10</text>
<line x1="55.0" y1="559.74" x2="59.4" y2="559.74" stroke="#111" stroke-width="1.2" stroke-linecap="butt"/>
<text x="53.4" y="562.44" font-size="8.0" text-anchor="end" fill="#222" textLength="8.2" lengthAdjust="spacingAndGlyphs">20</text>
<line x1="55.0" y1="536.76" x2="59.4" y2="536.76" stroke="#111" stroke-width="1.2" stroke-linecap="butt"/>
<text x="53.4" y="539.46" font-size="8.0" text-anchor="end" fill="#222" textLength="8.2" lengthAdjust="spacingAndGlyphs">30</text>
<line x1="55.0" y1="513.78" x2="59.4" y2="513.78" stroke="#111" stroke-width="1.2" stroke-linecap="butt"/>
<text x="53.4" y="516.48" font-size="8.0" text-anchor="end" fill="#222" textLength="8.2" lengthAdjust="spacingAndGlyphs">40</text>
<line x1="55.0" y1="490.8" x2="59.4" y2="490.8" stroke="#111" stroke-width="1.2" stroke-linecap="butt"/>
<text x="53.4" y="493.5" font-size="8.0" text-anchor="end" fill="#222" textLength="8.2" lengthAdjust="spacingAndGlyphs">50</text>
<text x="36.8" y="558.5" font-size="8.6" text-anchor="middle" fill="#222" textLength="83.4" lengthAdjust="spacingAndGlyphs" transform="rotate(-90 36.8 558.5)">Leukemic cells (x10<tspan font-size="5" dy="-2.5">6</tspan><tspan dy="2.5">/ml)</tspan></text>
<line x1="87.0" y1="627.0" x2="87.0" y2="630.4" stroke="#111" stroke-width="1.2" stroke-linecap="butt"/>
<text x="87.0" y="640.0" font-size="8.2" text-anchor="middle" fill="#222" textLength="12.4" lengthAdjust="spacingAndGlyphs">Ctrl</text>
<line x1="126.0" y1="627.0" x2="126.0" y2="630.4" stroke="#111" stroke-width="1.2" stroke-linecap="butt"/>
<text x="126.0" y="640.0" font-size="8.2" text-anchor="middle" fill="#222" textLength="10.0" lengthAdjust="spacingAndGlyphs">Ibr</text>
<line x1="165.0" y1="627.0" x2="165.0" y2="630.4" stroke="#111" stroke-width="1.2" stroke-linecap="butt"/>
<text x="165.0" y="640.0" font-size="8.2" text-anchor="middle" fill="#222" textLength="11.4" lengthAdjust="spacingAndGlyphs">Pal</text>
<line x1="204.0" y1="627.0" x2="204.0" y2="630.4" stroke="#111" stroke-width="1.2" stroke-linecap="butt"/>
<text x="204.0" y="640.0" font-size="8.2" text-anchor="middle" fill="#222" textLength="26.4" lengthAdjust="spacingAndGlyphs">Ibr+Pal</text>
<line x1="87.0" y1="517.5" x2="87.0" y2="561.3" stroke="#333" stroke-width="1.3" stroke-linecap="butt"/>
<rect x="79.4" y="561.3" width="15.2" height="25.7" fill="#ef78cc" stroke="#111" stroke-width="1.1"/>
<line x1="79.4" y1="582.6" x2="94.6" y2="582.6" stroke="#111" stroke-width="1.1" stroke-linecap="butt"/>
<circle cx="87" cy="517.5" r="1.55" fill="#e6000e" stroke="#2a0000" stroke-width="0.6"/>
<circle cx="87" cy="525.0" r="1.55" fill="#e6000e" stroke="#2a0000" stroke-width="0.6"/>
<circle cx="87" cy="573.4" r="1.55" fill="#e6000e" stroke="#2a0000" stroke-width="0.6"/>
<circle cx="85.4" cy="580.6" r="1.55" fill="#e6000e" stroke="#2a0000" stroke-width="0.6"/>
<circle cx="88.8" cy="580.6" r="1.55" fill="#e6000e" stroke="#2a0000" stroke-width="0.6"/>
<circle cx="84.0" cy="584.6" r="1.55" fill="#e6000e" stroke="#2a0000" stroke-width="0.6"/>
<circle cx="90.0" cy="584.6" r="1.55" fill="#e6000e" stroke="#2a0000" stroke-width="0.6"/>
<circle cx="87" cy="586.4" r="1.55" fill="#e6000e" stroke="#2a0000" stroke-width="0.6"/>
<circle cx="87" cy="589.4" r="1.55" fill="#e6000e" stroke="#2a0000" stroke-width="0.6"/>
<circle cx="87" cy="590.8" r="1.55" fill="#e6000e" stroke="#2a0000" stroke-width="0.6"/>
<line x1="126.1" y1="560.8" x2="126.1" y2="605.9" stroke="#333" stroke-width="1.3" stroke-linecap="butt"/>
<rect x="118.6" y="583.0" width="14.9" height="11.0" fill="#ef78cc" stroke="#111" stroke-width="1.1"/>
<line x1="118.6" y1="588.6" x2="133.5" y2="588.6" stroke="#111" stroke-width="1.1" stroke-linecap="butt"/>
<circle cx="126.1" cy="560.8" r="1.55" fill="#e6000e" stroke="#2a0000" stroke-width="0.6"/>
<circle cx="126.1" cy="581.0" r="1.55" fill="#e6000e" stroke="#2a0000" stroke-width="0.6"/>
<circle cx="126.1" cy="584.0" r="1.55" fill="#e6000e" stroke="#2a0000" stroke-width="0.6"/>
<circle cx="126.1" cy="587.3" r="1.55" fill="#e6000e" stroke="#2a0000" stroke-width="0.6"/>
<circle cx="126.1" cy="590.3" r="1.55" fill="#e6000e" stroke="#2a0000" stroke-width="0.6"/>
<circle cx="124.0" cy="592.0" r="1.55" fill="#e6000e" stroke="#2a0000" stroke-width="0.6"/>
<circle cx="128.2" cy="592.0" r="1.55" fill="#e6000e" stroke="#2a0000" stroke-width="0.6"/>
<circle cx="126.1" cy="599.4" r="1.55" fill="#e6000e" stroke="#2a0000" stroke-width="0.6"/>
<circle cx="126.1" cy="605.9" r="1.55" fill="#e6000e" stroke="#2a0000" stroke-width="0.6"/>
<line x1="156.5" y1="603.8" x2="172.4" y2="603.8" stroke="#111" stroke-width="1.3" stroke-linecap="butt"/>
<circle cx="163.3" cy="600.4" r="1.55" fill="#e6000e" stroke="#2a0000" stroke-width="0.6"/>
<circle cx="166.6" cy="602.1" r="1.55" fill="#e6000e" stroke="#2a0000" stroke-width="0.6"/>
<circle cx="160.1" cy="603.3" r="1.55" fill="#e6000e" stroke="#2a0000" stroke-width="0.6"/>
<circle cx="170.2" cy="603.3" r="1.55" fill="#e6000e" stroke="#2a0000" stroke-width="0.6"/>
<circle cx="159.4" cy="605.0" r="1.55" fill="#e6000e" stroke="#2a0000" stroke-width="0.6"/>
<circle cx="163.3" cy="605.3" r="1.55" fill="#e6000e" stroke="#2a0000" stroke-width="0.6"/>
<circle cx="166.9" cy="606.4" r="1.55" fill="#e6000e" stroke="#2a0000" stroke-width="0.6"/>
<circle cx="170.2" cy="605.0" r="1.55" fill="#e6000e" stroke="#2a0000" stroke-width="0.6"/>
<circle cx="189.7" cy="605.7" r="1.55" fill="#e6000e" stroke="#2a0000" stroke-width="0.6"/>
<circle cx="193.3" cy="606.0" r="1.55" fill="#e6000e" stroke="#2a0000" stroke-width="0.6"/>
<circle cx="196.9" cy="606.4" r="1.55" fill="#e6000e" stroke="#2a0000" stroke-width="0.6"/>
<circle cx="200.5" cy="606.1" r="1.55" fill="#e6000e" stroke="#2a0000" stroke-width="0.6"/>
<circle cx="203.8" cy="606.0" r="1.55" fill="#e6000e" stroke="#2a0000" stroke-width="0.6"/>
<circle cx="207.3" cy="606.4" r="1.55" fill="#e6000e" stroke="#2a0000" stroke-width="0.6"/>
<circle cx="210.6" cy="605.7" r="1.55" fill="#e6000e" stroke="#2a0000" stroke-width="0.6"/>
<circle cx="213.9" cy="606.4" r="1.55" fill="#e6000e" stroke="#2a0000" stroke-width="0.6"/>
<circle cx="217.8" cy="606.4" r="1.55" fill="#e6000e" stroke="#2a0000" stroke-width="0.6"/>
<line x1="73.8" y1="499.3" x2="225.0" y2="499.3" stroke="#222" stroke-width="1.2" stroke-dasharray="3.6 1.7" stroke-linecap="butt"/>
<text x="149.5" y="497.6" font-size="6.3" text-anchor="middle" fill="#222" textLength="24.6" lengthAdjust="spacingAndGlyphs"><tspan font-style="italic">P</tspan> &lt;0.001</text>
<line x1="121.8" y1="511.3" x2="225.0" y2="511.3" stroke="#222" stroke-width="1.2" stroke-dasharray="3.6 1.7" stroke-linecap="butt"/>
<text x="173.0" y="510.1" font-size="6.3" text-anchor="middle" fill="#222" textLength="24.6" lengthAdjust="spacingAndGlyphs"><tspan font-style="italic">P</tspan> &lt;0.001</text>
<line x1="162.0" y1="522.5" x2="225.0" y2="522.5" stroke="#222" stroke-width="1.2" stroke-dasharray="3.6 1.7" stroke-linecap="butt"/>
<text x="193.0" y="520.4" font-size="6.3" text-anchor="middle" fill="#222" textLength="26" lengthAdjust="spacingAndGlyphs"><tspan font-style="italic">P</tspan> = 0.006</text>
<text transform="translate(269.4 490.0) scale(1.05 1)" x="0" y="0" font-size="11.3" font-weight="bold" fill="#000" stroke="#000" stroke-width="0.35">F</text>
<line x1="302.9" y1="489.1" x2="302.9" y2="632.6" stroke="#111" stroke-width="1.5" stroke-linecap="butt"/>
<line x1="302.2" y1="631.9" x2="510.4" y2="631.9" stroke="#111" stroke-width="1.5" stroke-linecap="butt"/>
<line x1="298.4" y1="631.9" x2="302.9" y2="631.9" stroke="#111" stroke-width="1.2" stroke-linecap="butt"/>
<text x="296.4" y="634.8" font-size="8.2" text-anchor="end" fill="#222" textLength="10.0" lengthAdjust="spacingAndGlyphs">0.0</text>
<line x1="298.4" y1="604.7" x2="302.9" y2="604.7" stroke="#111" stroke-width="1.2" stroke-linecap="butt"/>
<text x="296.4" y="607.6" font-size="8.2" text-anchor="end" fill="#222" textLength="10.0" lengthAdjust="spacingAndGlyphs">0.2</text>
<line x1="298.4" y1="577.5" x2="302.9" y2="577.5" stroke="#111" stroke-width="1.2" stroke-linecap="butt"/>
<text x="296.4" y="580.4" font-size="8.2" text-anchor="end" fill="#222" textLength="10.0" lengthAdjust="spacingAndGlyphs">0.4</text>
<line x1="298.4" y1="550.3" x2="302.9" y2="550.3" stroke="#111" stroke-width="1.2" stroke-linecap="butt"/>
<text x="296.4" y="553.2" font-size="8.2" text-anchor="end" fill="#222" textLength="10.0" lengthAdjust="spacingAndGlyphs">0.6</text>
<line x1="298.4" y1="523.1" x2="302.9" y2="523.1" stroke="#111" stroke-width="1.2" stroke-linecap="butt"/>
<text x="296.4" y="526" font-size="8.2" text-anchor="end" fill="#222" textLength="10.0" lengthAdjust="spacingAndGlyphs">0.8</text>
<line x1="298.4" y1="495.9" x2="302.9" y2="495.9" stroke="#111" stroke-width="1.2" stroke-linecap="butt"/>
<text x="296.4" y="498.8" font-size="8.2" text-anchor="end" fill="#222" textLength="10.0" lengthAdjust="spacingAndGlyphs">1.0</text>
<line x1="303.2" y1="631.9" x2="303.2" y2="634.6" stroke="#111" stroke-width="1.2" stroke-linecap="butt"/>
<text x="303.2" y="644.0" font-size="8.3" text-anchor="middle" fill="#222" textLength="4.3" lengthAdjust="spacingAndGlyphs">0</text>
<line x1="332.72" y1="631.9" x2="332.72" y2="634.6" stroke="#111" stroke-width="1.2" stroke-linecap="butt"/>
<text x="332.72" y="644.0" font-size="8.3" text-anchor="middle" fill="#222" textLength="4.3" lengthAdjust="spacingAndGlyphs">5</text>
<line x1="362.25" y1="631.9" x2="362.25" y2="634.6" stroke="#111" stroke-width="1.2" stroke-linecap="butt"/>
<text x="362.25" y="644.0" font-size="8.3" text-anchor="middle" fill="#222" textLength="8.5" lengthAdjust="spacingAndGlyphs">10</text>
<line x1="391.77" y1="631.9" x2="391.77" y2="634.6" stroke="#111" stroke-width="1.2" stroke-linecap="butt"/>
<text x="391.77" y="644.0" font-size="8.3" text-anchor="middle" fill="#222" textLength="8.5" lengthAdjust="spacingAndGlyphs">15</text>
<line x1="421.3" y1="631.9" x2="421.3" y2="634.6" stroke="#111" stroke-width="1.2" stroke-linecap="butt"/>
<text x="421.3" y="644.0" font-size="8.3" text-anchor="middle" fill="#222" textLength="8.5" lengthAdjust="spacingAndGlyphs">20</text>
<line x1="450.82" y1="631.9" x2="450.82" y2="634.6" stroke="#111" stroke-width="1.2" stroke-linecap="butt"/>
<text x="450.82" y="644.0" font-size="8.3" text-anchor="middle" fill="#222" textLength="8.5" lengthAdjust="spacingAndGlyphs">25</text>
<line x1="480.35" y1="631.9" x2="480.35" y2="634.6" stroke="#111" stroke-width="1.2" stroke-linecap="butt"/>
<text x="480.35" y="644.0" font-size="8.3" text-anchor="middle" fill="#222" textLength="8.5" lengthAdjust="spacingAndGlyphs">30</text>
<line x1="509.88" y1="631.9" x2="509.88" y2="634.6" stroke="#111" stroke-width="1.2" stroke-linecap="butt"/>
<text x="509.88" y="644.0" font-size="8.3" text-anchor="middle" fill="#222" textLength="8.5" lengthAdjust="spacingAndGlyphs">35</text>
<text x="406.3" y="656.5" font-size="9" text-anchor="middle" fill="#222" textLength="37" lengthAdjust="spacingAndGlyphs">Time (days)</text>
<text x="280.0" y="560.45" font-size="9.6" text-anchor="middle" fill="#222" textLength="25.9" lengthAdjust="spacingAndGlyphs" transform="rotate(-90 280.0 560.45)">Survival</text>
<path d="M303.20,495.90 L391.77,495.90 L391.77,509.50 L397.68,509.50 L397.68,523.10 L403.58,523.10 L403.58,563.90 L409.49,563.90 L409.49,604.70 L415.39,604.70 L415.39,631.90" fill="none" stroke="#d0101e" stroke-width="1.5" stroke-linejoin="miter"/>
<path d="M303.20,495.90 L409.49,495.90 L409.49,509.50 L421.30,509.50 L421.30,523.10 L433.11,523.10 L433.11,550.30 L439.01,550.30 L439.01,591.10 L444.92,591.10 L444.92,604.70 L450.82,604.70 L450.82,631.90" fill="none" stroke="#46f020" stroke-width="1.5" stroke-linejoin="miter"/>
<path d="M303.20,495.90 L391.77,495.90 L391.77,509.50 L403.58,509.50 L403.58,523.10 L409.49,523.10 L409.49,550.30 L415.39,550.30 L415.39,577.50 L421.30,577.50 L421.30,618.30 L433.11,618.30 L433.11,631.90" fill="none" stroke="#1a52c2" stroke-width="1.5" stroke-linejoin="miter"/>
<path d="M303.20,495.90 L439.01,495.90 L439.01,511.01 L456.73,511.01 L456.73,526.12 L462.63,526.12 L462.63,541.23 L468.54,541.23 L468.54,571.46 L474.44,571.46 L474.44,601.68 L486.25,601.68 L486.25,616.79 L492.16,616.79 L492.16,631.90" fill="none" stroke="#2a18a2" stroke-width="1.5" stroke-linejoin="miter"/>
<line x1="475.0" y1="494.8" x2="484.3" y2="494.8" stroke="#d0101e" stroke-width="1.6" stroke-linecap="butt"/>
<text x="487.8" y="497.5" font-size="7.9" text-anchor="start" fill="#222" textLength="12.29" lengthAdjust="spacingAndGlyphs">Ctrl</text>
<line x1="475.0" y1="504.75" x2="484.3" y2="504.75" stroke="#1a52c2" stroke-width="1.6" stroke-linecap="butt"/>
<text x="487.8" y="507.45" font-size="7.9" text-anchor="start" fill="#222" textLength="9.22" lengthAdjust="spacingAndGlyphs">Ibr</text>
<line x1="475.0" y1="514.7" x2="484.3" y2="514.7" stroke="#46f020" stroke-width="1.6" stroke-linecap="butt"/>
<text x="487.8" y="517.4" font-size="7.9" text-anchor="start" fill="#222" textLength="11.42" lengthAdjust="spacingAndGlyphs">Pal</text>
<line x1="475.0" y1="524.65" x2="484.3" y2="524.65" stroke="#2a18a2" stroke-width="1.6" stroke-linecap="butt"/>
<text x="487.8" y="527.35" font-size="7.9" text-anchor="start" fill="#222" textLength="25.25" lengthAdjust="spacingAndGlyphs">Ibr+Pal</text>
<text x="310.5" y="584.0" font-size="6.7" text-anchor="start" fill="#222" textLength="27.51" lengthAdjust="spacingAndGlyphs">Ctrl vs Ibr</text>
<text x="374.0" y="584.0" font-size="6.6" text-anchor="start" fill="#222"><tspan font-style="italic">P</tspan> = 0.026</text>
<text x="310.5" y="592.4" font-size="6.7" text-anchor="start" fill="#222" textLength="44.14" lengthAdjust="spacingAndGlyphs">Ctrl vs Ibr+Palb</text>
<text x="374.0" y="592.4" font-size="6.6" text-anchor="start" fill="#222"><tspan font-style="italic">P</tspan> &lt;0.001</text>
<text x="310.5" y="600.8" font-size="6.7" text-anchor="start" fill="#222" textLength="32.88" lengthAdjust="spacingAndGlyphs">Ctrl vs Palb</text>
<text x="374.0" y="600.8" font-size="6.6" text-anchor="start" fill="#222"><tspan font-style="italic">P</tspan> &lt;0.001</text>
<text x="310.5" y="609.2" font-size="6.7" text-anchor="start" fill="#222" textLength="41.65" lengthAdjust="spacingAndGlyphs">Ibr vs Ibr+Palb</text>
<text x="374.0" y="609.2" font-size="6.6" text-anchor="start" fill="#222"><tspan font-style="italic">P</tspan> &lt;0.001</text>
<text x="310.5" y="617.6" font-size="6.7" text-anchor="start" fill="#222" textLength="47.01" lengthAdjust="spacingAndGlyphs">Palb vs Ibr+Palb</text>
<text x="374.0" y="617.6" font-size="6.6" text-anchor="start" fill="#222"><tspan font-style="italic">P</tspan> &lt;0.001</text>
<text x="310.5" y="626.0" font-size="6.7" text-anchor="start" fill="#222" textLength="30.38" lengthAdjust="spacingAndGlyphs">Ibr vs Palb</text>
<text x="374.0" y="626.0" font-size="6.6" text-anchor="start" fill="#222"><tspan font-style="italic">P</tspan> &lt;0.001</text><rect x="0.75" y="0.75" width="518.5" height="663.5" fill="none" stroke="#000" stroke-width="1.5"/></svg></body></html>
